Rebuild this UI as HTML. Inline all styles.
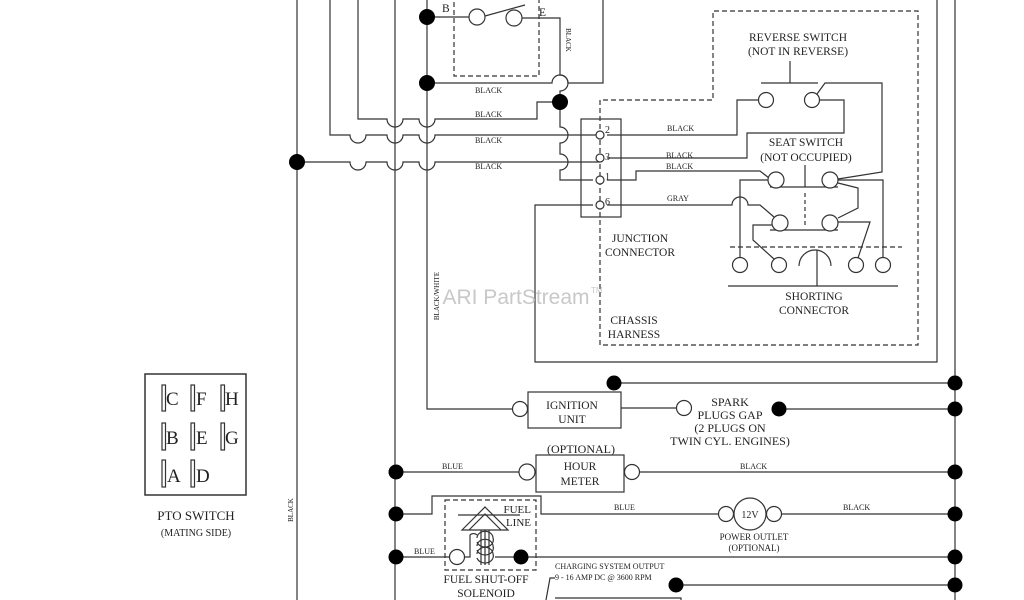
<!DOCTYPE html>
<html><head><style>
html,body{margin:0;padding:0;background:#fff;}
svg{display:block;}
text{font-family:"Liberation Serif",serif;fill:#222;}
.s{font-size:8px;}
.m{font-size:11.5px;}
.l{font-size:13px;}
</style></head><body>
<svg width="1024" height="600" viewBox="0 0 1024 600" xmlns="http://www.w3.org/2000/svg">
<rect width="1024" height="600" fill="#fff"/>
<g stroke="#333" stroke-width="1.2" fill="none">
<line x1="297" y1="0" x2="297" y2="600"/>
<path d="M330 0 V135 H350 a8 8 0 0 0 16 0 H387 a8 8 0 0 0 16 0 H419 a8 8 0 0 0 16 0 H600"/>
<path d="M358 0 V119 H387 a8 8 0 0 0 16 0 H419 a8 8 0 0 0 16 0 H537 V102 H560"/>
<line x1="395" y1="0" x2="395" y2="600"/>
<path d="M297 162 H350 a8 8 0 0 0 16 0 H387 a8 8 0 0 0 16 0 H419 a8 8 0 0 0 16 0 H600"/>
<path d="M427 0 V409 H513"/>
<path d="M427 17 H470"/>
<path d="M521 18 H560 V75 a8 8 0 0 1 0 16 V127 a8 8 0 0 1 0 16 V154 a8 8 0 0 1 0 16 V180 H593"/>
<path d="M427 83 H552 a8 8 0 0 1 16 0 H603 V0"/>
<line x1="485" y1="16" x2="525" y2="5"/>
<rect x="454" y="-5" width="85" height="81" stroke-dasharray="5,3"/>
<rect x="581" y="119" width="40" height="98"/>
<path d="M600 100 V345 H918 V11 H713 V100 H600" stroke-dasharray="5,3"/>
<path d="M607 135 H737 V100 H759"/>
<path d="M607 158 H747 V133 H844 V100 H820"/>
<path d="M607 180 H636 V171 H760 L769 178"/>
<path d="M593 205 H535 V362 H937 V0"/>
<line x1="955" y1="0" x2="955" y2="600"/>
<path d="M607 205 H732 a8 8 0 0 1 16 0 H760 L774 217"/>
<path d="M761 83 H818 M790 61 V83"/>
<path d="M817 94 L825 83 H882 V172 L838 179"/>
<path d="M770 187 H838 M805 165 V187 M770 230 H838"/>
<path d="M805 193 V228" stroke-dasharray="4,3"/>
<path d="M768 180 H740 V258"/>
<path d="M838 180 H883 V258"/>
<path d="M838 183 L858 188 V208 L838 218"/>
<path d="M772 225 H753 V240 L774 259"/>
<path d="M838 222 H870 L858 258"/>
<path d="M730 247 H902" stroke-dasharray="5,3"/>
<path d="M799 266 a16 16 0 0 1 32 0 M817 250 V286 M728 286 H898"/>
<rect x="145" y="374" width="101" height="121" stroke-width="1.5"/>
<path d="M614 383 H955"/>
<rect x="528" y="392" width="93" height="36"/>
<path d="M621 408 H677 M779 409 H955"/>
<rect x="536" y="455" width="88" height="37"/>
<path d="M396 472 H520 M639 472 H955"/>
<path d="M396 514 H432 V496 H541 V514 H719 M781 514 H955"/>
<circle cx="750" cy="514" r="16"/>
<rect x="445" y="500" width="91" height="70" stroke-dasharray="5,3"/>
<path d="M458 515 H520"/>
<path d="M462 530 L485 507 L508 530 Z M469 530 L485 514 L501 530"/>
<path d="M481 530 V565 M485 530 V565 M489 530 V565"/>
<path d="M464 557 H470 V535 a5 5 0 0 1 7 0 M477 538 a6 5 0 0 1 16 0 a6 5 0 0 1 -16 4 M477 546 a6 5 0 0 1 16 0 a6 5 0 0 1 -16 4 M477 554 a6 5 0 0 1 16 0 a6 5 0 0 1 -16 4"/>
<path d="M396 557 H450 M495 557 H955"/>
<path d="M676 585 H955"/>
<path d="M555 598 H681 V600"/>
<path d="M555 578 H550 L546 600"/>
</g>
<g stroke="#333" stroke-width="1.2" fill="#fff">
<circle cx="477" cy="17" r="8"/><circle cx="514" cy="18" r="8"/>
<circle cx="600" cy="135" r="4"/><circle cx="600" cy="158" r="4"/><circle cx="600" cy="180" r="4"/><circle cx="600" cy="205" r="4"/>
<circle cx="766" cy="100" r="7.5"/><circle cx="812" cy="100" r="7.5"/>
<circle cx="776" cy="180" r="8"/><circle cx="830" cy="180" r="8"/>
<circle cx="780" cy="223" r="8"/><circle cx="830" cy="223" r="8"/>
<circle cx="740" cy="265" r="7.5"/><circle cx="779" cy="265" r="7.5"/><circle cx="856" cy="265" r="7.5"/><circle cx="883" cy="265" r="7.5"/>
<circle cx="520" cy="409" r="7.5"/><circle cx="684" cy="408" r="7.5"/>
<circle cx="527" cy="472" r="8"/><circle cx="632" cy="472" r="7.5"/>
<circle cx="726" cy="514" r="7.5"/><circle cx="774" cy="514" r="7.5"/>
<circle cx="457" cy="557" r="7.5"/>
</g>
<g fill="#000">
<circle cx="427" cy="17" r="8"/><circle cx="427" cy="83" r="8"/><circle cx="560" cy="102" r="8"/>
<circle cx="297" cy="162" r="8"/>
<circle cx="614" cy="383" r="7.5"/><circle cx="955" cy="383" r="7.5"/>
<circle cx="779" cy="409" r="7.5"/><circle cx="955" cy="409" r="7.5"/>
<circle cx="396" cy="472" r="7.5"/><circle cx="955" cy="472" r="7.5"/>
<circle cx="396" cy="514" r="7.5"/><circle cx="955" cy="514" r="7.5"/>
<circle cx="396" cy="557" r="7.5"/><circle cx="521" cy="557" r="7.5"/><circle cx="955" cy="557" r="7.5"/>
<circle cx="676" cy="585" r="7.5"/><circle cx="955" cy="585" r="7.5"/>
</g>
<g fill="#fff" stroke="#333" stroke-width="1.2">
<rect x="162" y="385" width="3.5" height="26"/><rect x="191" y="385" width="3.5" height="26"/><rect x="221" y="385" width="3.5" height="26"/>
<rect x="162" y="423" width="3.5" height="27"/><rect x="191" y="423" width="3.5" height="27"/><rect x="221" y="423" width="3.5" height="27"/>
<rect x="162" y="460" width="3.5" height="27"/><rect x="191" y="460" width="3.5" height="27"/>
</g>
<g style="font-size:19px">
<text x="166" y="405">C</text><text x="196" y="405">F</text><text x="225" y="405">H</text>
<text x="166" y="444">B</text><text x="196" y="444">E</text><text x="225" y="444">G</text>
<text x="167" y="482">A</text><text x="196" y="482">D</text>
</g>
<text x="196" y="520" class="l" text-anchor="middle">PTO SWITCH</text>
<text x="196" y="536" class="s" style="font-size:10px" text-anchor="middle">(MATING SIDE)</text>
<text x="293" y="510" class="s" style="font-size:7px" text-anchor="middle" transform="rotate(-90 293 510)">BLACK</text>
<text x="439" y="296" class="s" style="font-size:7px" text-anchor="middle" transform="rotate(-90 439 296)">BLACK/WHITE</text>
<text x="516" y="304" style="font-family:'Liberation Sans',sans-serif;font-size:21px;fill:#c8c8c8" text-anchor="middle">ARI PartStream</text>
<text x="591" y="293" style="font-family:'Liberation Sans',sans-serif;font-size:8px;fill:#c8c8c8">TM</text>
<text x="442" y="12" class="m">B</text><text x="539" y="16" class="m">E</text>
<text x="566" y="40" class="s" style="font-size:7px" text-anchor="middle" transform="rotate(90 566 40)">BLACK</text>
<g class="s">
<text x="475" y="93">BLACK</text><text x="475" y="117">BLACK</text><text x="475" y="143">BLACK</text><text x="475" y="169">BLACK</text>
<text x="667" y="131">BLACK</text><text x="666" y="158">BLACK</text><text x="666" y="169">BLACK</text><text x="667" y="201">GRAY</text>
<text x="442" y="469">BLUE</text><text x="740" y="469">BLACK</text>
<text x="614" y="510">BLUE</text><text x="843" y="510">BLACK</text>
<text x="414" y="554">BLUE</text>
</g>
<g class="s" style="font-size:10px">
<text x="605" y="133">2</text><text x="605" y="160">3</text><text x="605" y="180">1</text><text x="605" y="205">6</text>
</g>
<g class="m" text-anchor="middle">
<text x="798" y="41">REVERSE SWITCH</text><text x="798" y="55">(NOT IN REVERSE)</text>
<text x="806" y="146">SEAT SWITCH</text><text x="806" y="161">(NOT OCCUPIED)</text>
<text x="640" y="242">JUNCTION</text><text x="640" y="256">CONNECTOR</text>
<text x="634" y="324">CHASSIS</text><text x="634" y="338">HARNESS</text>
<text x="814" y="300">SHORTING</text><text x="814" y="314">CONNECTOR</text>
<text x="572" y="409">IGNITION</text><text x="572" y="423">UNIT</text>
<text x="580" y="470">HOUR</text><text x="580" y="485">METER</text>
<text x="750" y="518" style="font-size:10px">12V</text>
<text x="486" y="583">FUEL SHUT-OFF</text><text x="486" y="597">SOLENOID</text>
</g>
<g class="l" text-anchor="middle" style="font-size:12px">
<text x="730" y="406">SPARK</text><text x="730" y="419">PLUGS GAP</text><text x="730" y="432">(2 PLUGS ON</text><text x="730" y="445">TWIN CYL. ENGINES)</text>
<text x="581" y="453">(OPTIONAL)</text>
</g>
<g class="s" style="font-size:9px" text-anchor="middle">
<text x="754" y="540">POWER OUTLET</text><text x="754" y="551">(OPTIONAL)</text>
</g>
<g class="m" text-anchor="end" style="font-size:11px"><text x="531" y="513">FUEL</text><text x="531" y="526">LINE</text></g>
<g class="s" style="font-size:8px"><text x="555" y="569">CHARGING SYSTEM OUTPUT</text><text x="555" y="580">9 - 16 AMP DC @ 3600 RPM</text></g>
</svg>
</body></html>
